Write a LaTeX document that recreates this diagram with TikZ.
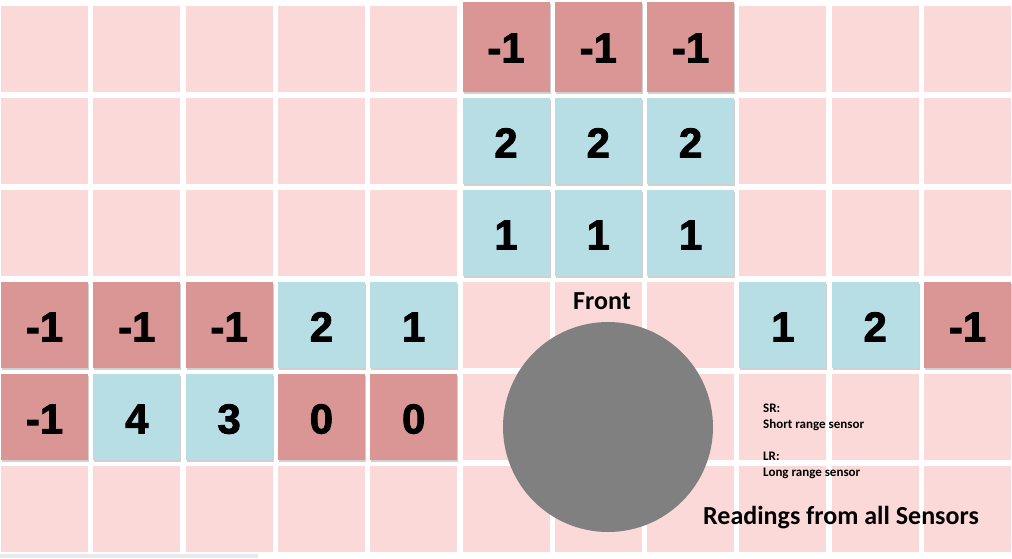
\documentclass[tikz,border=0pt]{standalone}
\usepackage{fontspec}
\setmainfont{Carlito}
\newfontfamily\numfont{Liberation Sans}[BoldFeatures={FakeBold=2}]
\usetikzlibrary{shadows,calc}
\definecolor{cellpink}{HTML}{FCD9D9}
\definecolor{cellred}{HTML}{D99694}
\definecolor{cellblue}{HTML}{B7DDE5}
\definecolor{robotgray}{HTML}{808080}
\definecolor{barGray}{HTML}{E9E9E9}
\begin{document}
\begin{tikzpicture}[x=1pt,y=-1pt,
  cellbox/.style={minimum width=87pt,minimum height=86pt,inner sep=0pt,outer sep=0pt},
  freebox/.style={cellbox,fill=cellpink},
  readbox/.style={cellbox,drop shadow={shadow xshift=1pt,shadow yshift=-1.5pt,opacity=0.3,fill=black!60},
    text height=33pt,text depth=0pt,
    font=\numfont\bfseries\fontsize{42}{42}\selectfont},
  negbox/.style={readbox,fill=cellred},
  posbox/.style={readbox,fill=cellblue},
  bigtext/.style={font=\bfseries\fontsize{26}{26}\selectfont},
  legtext/.style={anchor=west,inner sep=0pt,font=\bfseries\fontsize{13}{13}\selectfont}]
\useasboundingbox (0,0) rectangle (1012,558);
\fill[white] (0,0) rectangle (1012,558);
\fill[barGray] (0,554) rectangle (258,558);
% background grid
\foreach \i in {0,...,10} {
  \foreach \j in {0,...,5} {
    \node[freebox] (g\i-\j) at ({44.5+92.3*\i},{49+92*\j}) {};
  }
}
% top sensors
\foreach \i in {5,6,7} {
  \node[negbox,minimum height=90pt,text height=31pt] (t0-\i) at ($(g\i-0)+(0,-2)$) {-1};
  \node[posbox] (t1-\i) at (g\i-1) {2};
  \node[posbox] (t2-\i) at (g\i-2) {1};
}
% left sensors
\node[negbox] (l3-0) at (g0-3) {-1};
\node[negbox] (l3-1) at (g1-3) {-1};
\node[negbox] (l3-2) at (g2-3) {-1};
\node[posbox] (l3-3) at (g3-3) {2};
\node[posbox] (l3-4) at (g4-3) {1};
\node[negbox] (l4-0) at (g0-4) {-1};
\node[posbox] (l4-1) at (g1-4) {4};
\node[posbox] (l4-2) at (g2-4) {3};
\node[negbox] (l4-3) at (g3-4) {0};
\node[negbox] (l4-4) at (g4-4) {0};
% right sensors
\node[posbox] (r3-8) at (g8-3) {1};
\node[posbox] (r3-9) at (g9-3) {2};
\node[negbox] (r3-10) at (g10-3) {-1};
% robot
\node[circle,fill=robotgray,minimum size=210pt,inner sep=0pt] (robot) at (608,427) {};
\node[bigtext] (front) at (602,301) {Front};
% legend
\node[legtext] (sr) at (763,408) {SR:};
\node[legtext] (srt) at (763,425) {Short range sensor};
\node[legtext] (lr) at (763,456) {LR:};
\node[legtext] (lrt) at (763,473) {Long range sensor};
\node[bigtext] (title) at (841,518) {Readings from all Sensors};
\end{tikzpicture}
\end{document}
